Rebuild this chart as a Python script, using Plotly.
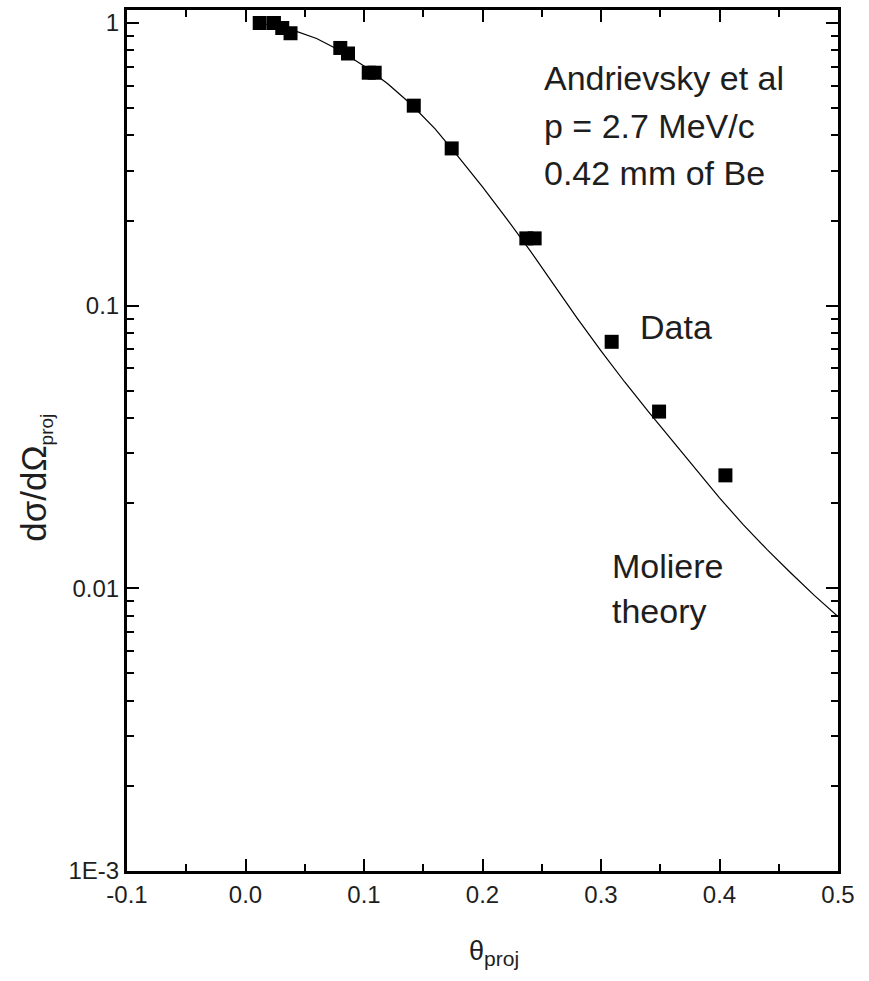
import plotly.graph_objects as go

# Measured angular distribution (Andrievsky et al., 0.42 mm Be, p = 2.7 MeV/c)
data_theta = [0.012, 0.024, 0.031, 0.038, 0.080, 0.0865, 0.104, 0.109,
              0.142, 0.174, 0.237, 0.244, 0.309, 0.349, 0.405]
data_sigma = [1.0, 1.0, 0.96, 0.92, 0.816, 0.78, 0.667, 0.667,
              0.51, 0.36, 0.173, 0.173, 0.0745, 0.0422, 0.0251]

# Moliere theory curve
theory_theta = [0.01, 0.02, 0.03, 0.04, 0.06, 0.08, 0.10, 0.12, 0.14, 0.16,
                0.18, 0.20, 0.22, 0.24, 0.26, 0.28, 0.30, 0.32, 0.34, 0.36,
                0.38, 0.40, 0.42, 0.44, 0.46, 0.48, 0.50]
theory_sigma = [0.997, 0.987, 0.968, 0.944, 0.881, 0.798, 0.705, 0.610, 0.515, 0.422,
                0.335, 0.263, 0.204, 0.157, 0.119, 0.0902, 0.0692, 0.0537, 0.0422, 0.0333,
                0.0263, 0.0209, 0.0168, 0.01374, 0.01135, 0.00944, 0.00794]

x_ticks = [-0.1, 0.0, 0.1, 0.2, 0.3, 0.4, 0.5]
x_tick_text = ["-0.1", "0.0", "0.1", "0.2", "0.3", "0.4", "0.5"]
y_ticks = [0.001, 0.01, 0.1, 1]
y_tick_text = ["1E-3", "0.01", "0.1", "1"]
y_minor = [m * 10 ** e for e in (-3, -2, -1) for m in range(2, 10)]
x_minor = [-0.05, 0.05, 0.15, 0.25, 0.35, 0.45]

FONT = "Liberation Sans, Arial, sans-serif"
INK = "#1e1e1e"

fig = go.Figure()
fig.add_trace(go.Scatter(
    x=theory_theta, y=theory_sigma, mode="lines",
    line=dict(color="black", width=1.2), showlegend=False,
))
fig.add_trace(go.Scatter(
    x=data_theta, y=data_sigma, mode="markers",
    marker=dict(symbol="square", size=14, color="black", line=dict(width=0)),
    showlegend=False,
))

labels = [
    ("Andrievsky et al", 0.250, -0.194),
    ("p = 2.7 MeV/c", 0.250, -0.363),
    ("0.42 mm of Be", 0.250, -0.529),
    ("Data", 0.331, -1.075),
    ("Moliere", 0.308, -1.921),
    ("theory", 0.308, -2.080),
]
for text, x, ylog in labels:
    fig.add_annotation(
        x=x, y=ylog, xref="x", yref="y", text=text, showarrow=False,
        xanchor="left", yanchor="middle",
        font=dict(family=FONT, size=34, color=INK),
    )

# Axis titles
fig.add_annotation(
    x=0.516, y=-0.095, xref="paper", yref="paper", showarrow=False,
    xanchor="center", yanchor="middle",
    text="θ<sub><span style='font-size:21px'>proj</span></sub>",
    font=dict(family=FONT, size=27, color=INK),
)
fig.add_annotation(
    x=-0.129, y=0.457, xref="paper", yref="paper", showarrow=False,
    xanchor="center", yanchor="middle", textangle=-90,
    text="dσ/dΩ<sub><span style='font-size:19px'>proj</span></sub>",
    font=dict(family=FONT, size=35, color=INK),
)

fig.update_layout(
    width=869, height=981,
    margin=dict(l=127, r=31, t=7, b=110),
    paper_bgcolor="white", plot_bgcolor="white",
    font=dict(family=FONT, color=INK),
)
fig.update_xaxes(
    range=[-0.1, 0.5], showgrid=False, zeroline=False,
    showline=True, linecolor="black", linewidth=3, mirror="ticks",
    ticks="inside", ticklen=12, tickwidth=2, tickcolor="black",
    tickmode="array", tickvals=x_ticks, ticktext=x_tick_text,
    tickfont=dict(size=24, family=FONT, color=INK),
    minor=dict(ticks="inside", ticklen=7, tickwidth=2, tickcolor="black",
               tickmode="array", tickvals=x_minor, showgrid=False),
)
fig.update_yaxes(
    type="log", range=[-3, 0.046], showgrid=False, zeroline=False,
    showline=True, linecolor="black", linewidth=3, mirror="ticks",
    ticks="inside", ticklen=12, tickwidth=2, tickcolor="black",
    tickmode="array", tickvals=y_ticks, ticktext=y_tick_text,
    tickfont=dict(size=24, family=FONT, color=INK),
    minor=dict(ticks="inside", ticklen=7, tickwidth=2, tickcolor="black",
               tickmode="array", tickvals=y_minor, showgrid=False),
)

fig.write_html("out.html")
